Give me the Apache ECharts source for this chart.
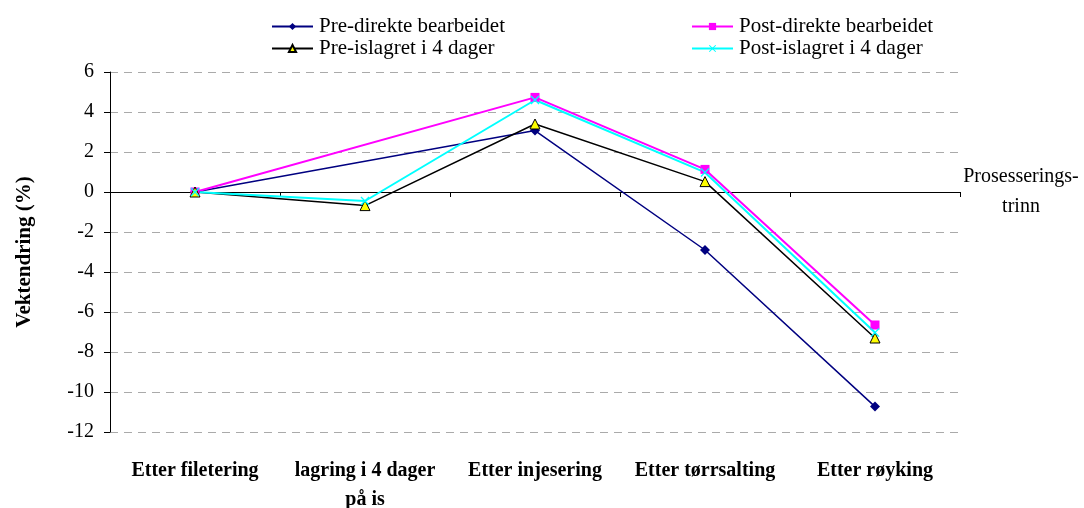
<!DOCTYPE html>
<html>
<head>
<meta charset="utf-8">
<script src="https://cdn.jsdelivr.net/npm/echarts@6/dist/echarts.min.js"></script>
<style>html,body{margin:0;padding:0;background:#fff;overflow:hidden}#c{width:1084px;height:508px}</style>
</head>
<body>
<div id="c"></div>
<script>
const categories = ['Etter filetering', 'lagring i 4 dager\npå is', 'Etter injesering', 'Etter tørrsalting', 'Etter røyking'];
const preDirekte = [0, null, 3.07, -2.9, -10.73];
const postDirekte = [0, null, 4.73, 1.13, -6.65];
const preIslagret = [0, -0.68, 3.4, 0.52, -7.3];
const postIslagret = [0, -0.45, 4.6, 0.98, -7.03];
const yTicks = { min: -12, max: 6, step: 2 };
const names = ['Pre-direkte bearbeidet', 'Post-direkte bearbeidet', 'Pre-islagret i 4 dager', 'Post-islagret i 4 dager'];

const FONT = '"Liberation Serif", "DejaVu Serif", serif';
const xSym = 'path://M0,1L1,0L5,4L9,0L10,1L6,5L10,9L9,10L5,6L1,10L0,9L4,5Z';

const chart = echarts.init(document.getElementById('c'), null, { renderer: 'canvas' });

function legend(name, left, top) {
  return {
    data: [name], left: left, top: top, orient: 'horizontal',
    itemWidth: 41, itemHeight: 9, padding: 0,
    textStyle: { fontFamily: FONT, fontSize: 21, color: '#000', padding: [0, 0, 0, 1] }
  };
}

chart.setOption({
  animation: false,
  backgroundColor: '#fff',
  legend: [
    legend(names[0], 271, 16),
    legend(names[1], 691, 16),
    legend(names[2], 271, 38),
    legend(names[3], 691, 38)
  ],
  grid: { left: 110, right: 124, top: 72, bottom: 76, containLabel: false, outerBoundsMode: 'none' },
  xAxis: [
    {
      type: 'category', data: categories, boundaryGap: true,
      axisLine: { onZero: true, lineStyle: { color: '#000', width: 1 } },
      axisTick: { show: true, inside: false, length: 5, lineStyle: { color: '#000' } },
      axisLabel: { show: false },
      splitLine: { show: false }
    },
    {
      type: 'category', data: categories, boundaryGap: true, position: 'bottom',
      axisLine: { show: false, onZero: false },
      axisTick: { show: false },
      axisLabel: { margin: 24, fontFamily: FONT, fontSize: 20, fontWeight: 'bold', color: '#000', lineHeight: 29, interval: 0 },
      splitLine: { show: false }
    }
  ],
  yAxis: {
    type: 'value', min: yTicks.min, max: yTicks.max, interval: yTicks.step,
    name: 'Vektendring (%)', nameLocation: 'middle', nameRotate: 90, nameGap: 75,
    nameTextStyle: { fontFamily: FONT, fontSize: 21, fontWeight: 'bold', color: '#000' },
    axisLine: { show: true, lineStyle: { color: '#000', width: 1 } },
    axisTick: { show: true, inside: false, length: 6, lineStyle: { color: '#000' } },
    axisLabel: { fontFamily: FONT, fontSize: 20, color: '#000', margin: 16 },
    splitLine: { show: true, lineStyle: { color: '#aaa', type: [8, 6], width: 1 } }
  },
  graphic: [
    { type: 'text', x: 1021, y: 162, style: { text: 'Prosesserings-\ntrinn', fontFamily: FONT, fontSize: 20, fill: '#000', align: 'center', verticalAlign: 'top', lineHeight: 30 } }
  ],
  series: [
    {
      name: names[0], type: 'line', data: preDirekte, connectNulls: true, xAxisIndex: 0,
      symbol: 'diamond', symbolSize: 10, showAllSymbol: true,
      lineStyle: { color: '#000080', width: 1.5 },
      itemStyle: { color: '#000080' }
    },
    {
      name: names[1], type: 'line', data: postDirekte, connectNulls: true, xAxisIndex: 0,
      symbol: 'rect', symbolSize: 9,
      lineStyle: { color: '#ff00ff', width: 2 },
      itemStyle: { color: '#ff00ff' }
    },
    {
      name: names[2], type: 'line', data: preIslagret, xAxisIndex: 0,
      symbol: 'triangle', symbolSize: 10,
      lineStyle: { color: '#000', width: 1.5 },
      itemStyle: { color: '#ffff00', borderColor: '#000', borderWidth: 1 }
    },
    {
      name: names[3], type: 'line', data: postIslagret, xAxisIndex: 0,
      symbol: xSym, symbolSize: 9,
      lineStyle: { color: '#00ffff', width: 2 },
      itemStyle: { color: '#00ffff' }
    }
  ]
});
</script>
</body>
</html>
